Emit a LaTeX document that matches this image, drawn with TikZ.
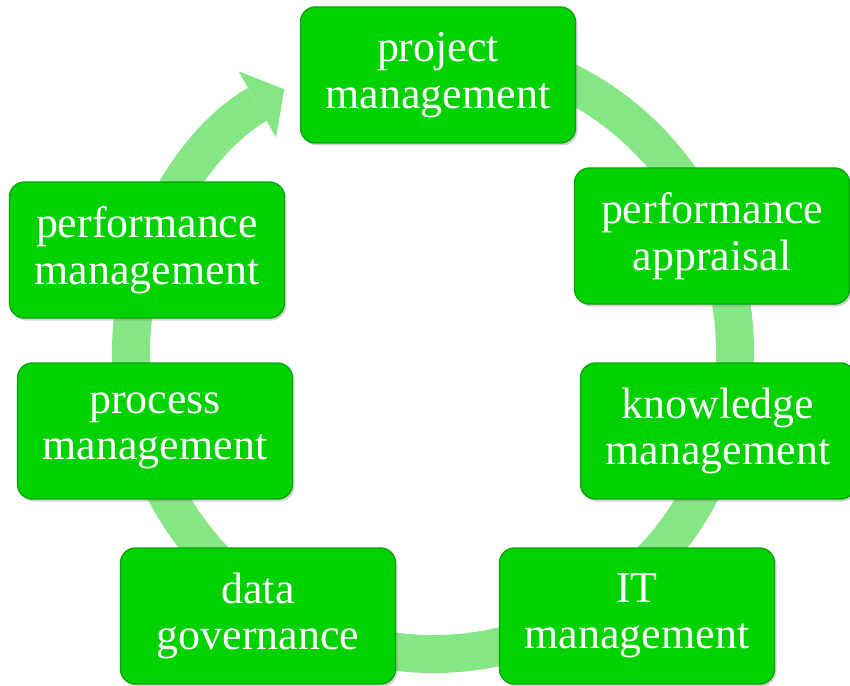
\documentclass[tikz,border=0pt]{standalone}
\usepackage{fontspec}
\setmainfont{Liberation Serif}
\usetikzlibrary{arrows.meta,shadows}
\definecolor{boxgreen}{RGB}{0,210,0}
\definecolor{edgegreen}{RGB}{10,165,10}
\definecolor{ringgreen}{RGB}{132,230,132}
\tikzset{
  stage/.style={draw=edgegreen, line width=0.8pt, fill=boxgreen, rounded corners=0.3cm,
    minimum width=5.5cm, minimum height=2.72cm, align=center, text=white,
    font=\fontsize{25}{26.5}\selectfont,
    drop shadow={opacity=0.35, shadow xshift=0.04cm, shadow yshift=-0.05cm}},
  ring/.style={draw=ringgreen, line width=0.76cm,
    -{Triangle[length=0.62cm, width=1.52cm, line width=0pt]}}
}
\begin{document}
\begin{tikzpicture}
\useasboundingbox (0,0) rectangle (17,13.7);
\coordinate (c) at (8.66,6.66);
\draw[ring] (c) ++(82:6.04) arc[start angle=82, end angle=-240.5, radius=6.04];

\node[stage] (proj) at (8.76,12.2) {project\\management};
\node[stage] (appr) at (14.24,8.98) {performance\\appraisal};
\node[stage] (know) at (14.36,5.08) {knowledge\\management};
\node[stage] (IT) at (12.74,1.38) {IT\\management};
\node[stage] (data) at (5.16,1.38) {data\\governance};
\node[stage] (proc) at (3.10,5.08) {process\\management};
\node[stage] (perf) at (2.94,8.70) {performance\\management};
\end{tikzpicture}
\end{document}
